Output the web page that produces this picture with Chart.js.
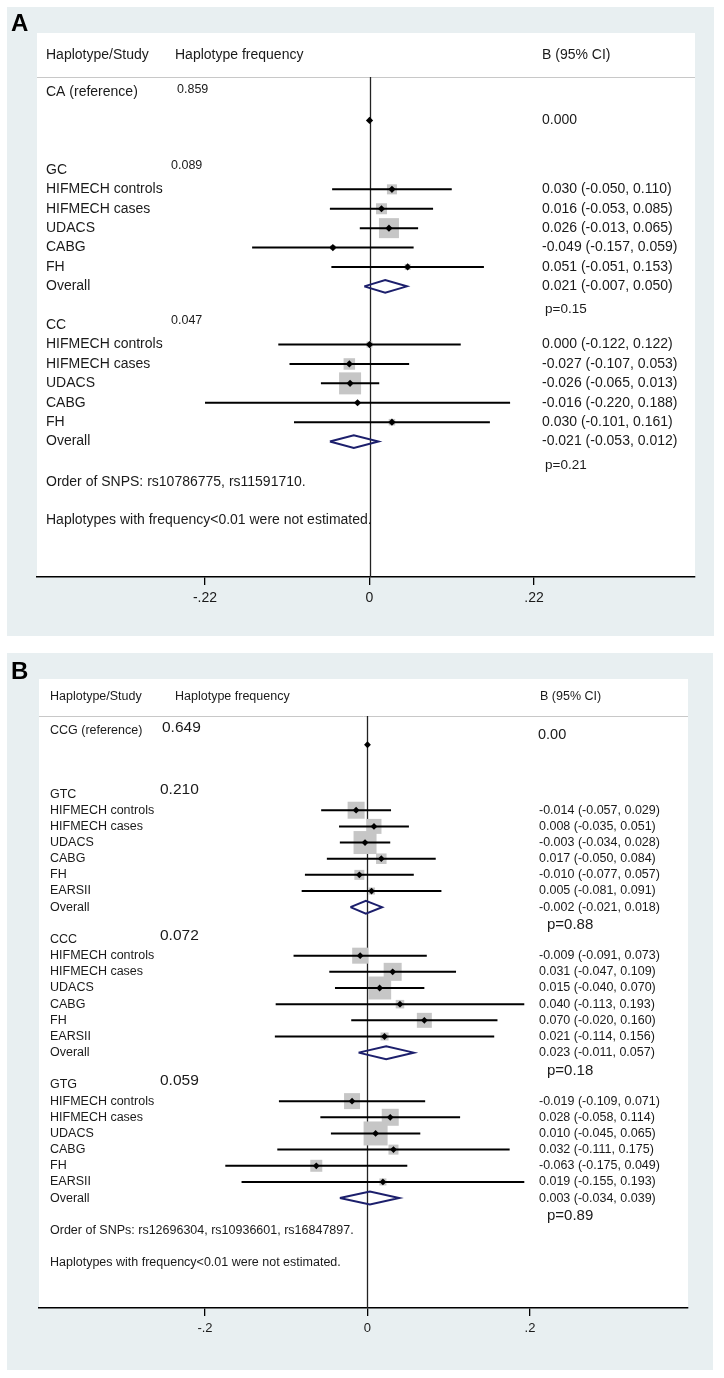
<!DOCTYPE html>
<html><head><meta charset="utf-8">
<script src="https://cdn.jsdelivr.net/npm/chart.js@4/dist/chart.umd.min.js"></script>
<style>
html,body{margin:0;padding:0;background:#fff;width:724px;height:1378px;overflow:hidden;}
.bg{position:absolute;background:#e8eff1;}
.wh{position:absolute;background:#fff;}
.holder{position:absolute;left:0;}
</style></head><body>
<div class="bg" style="left:7px;top:7px;width:707px;height:629px"></div>
<div class="wh" style="left:37px;top:33px;width:658px;height:544px"></div>
<div class="bg" style="left:7px;top:653px;width:706px;height:717px"></div>
<div class="wh" style="left:39px;top:679px;width:649px;height:629px"></div>
<div class="holder" style="top:0;width:724px;height:640px"><canvas id="cA" width="724" height="640"></canvas></div>
<div class="holder" style="top:640px;width:724px;height:738px"><canvas id="cB" width="724" height="738"></canvas></div>
<script>
// ---------------- DATA : panel A ----------------
const headersA = ['Haplotype/Study', 'Haplotype frequency', 'B (95% CI)'];
const studiesA = ['HIFMECH controls', 'HIFMECH cases', 'UDACS', 'CABG', 'FH'];
const refLabelA = 'CA (reference)';
const refFreqA = '0.859';
const refEstA = 0.000;
const refTextA = '0.000';
const groupsA = ['GC', 'CC'];
const freqA = ['0.089', '0.047'];
const pValuesA = ['p=0.15', 'p=0.21'];
const estA_GC = [0.030, 0.016, 0.026, -0.049, 0.051];
const loA_GC  = [-0.050, -0.053, -0.013, -0.157, -0.051];
const hiA_GC  = [0.110, 0.085, 0.065, 0.059, 0.153];
const wA_GC   = [14.5, 17.5, 57.8, 3.6, 5.2];
const overallA_GC = [0.021, -0.007, 0.050];
const estA_CC = [0.000, -0.027, -0.026, -0.016, 0.030];
const loA_CC  = [-0.122, -0.107, -0.065, -0.220, -0.101];
const hiA_CC  = [0.122, 0.053, 0.013, 0.188, 0.161];
const wA_CC   = [5.2, 19.1, 70.0, 1.8, 6.1];
const overallA_CC = [-0.021, -0.053, 0.012];
const footA = ['Order of SNPS: rs10786775, rs11591710.', 'Haplotypes with frequency<0.01 were not estimated.'];
const ticksA = [-0.22, 0, 0.22];
const tickLabelsA = ['-.22', '0', '.22'];

// ---------------- DATA : panel B ----------------
const headersB = ['Haplotype/Study', 'Haplotype frequency', 'B (95% CI)'];
const studiesB = ['HIFMECH controls', 'HIFMECH cases', 'UDACS', 'CABG', 'FH', 'EARSII'];
const refLabelB = 'CCG (reference)';
const refFreqB = '0.649';
const refEstB = 0.00;
const refTextB = '0.00';
const groupsB = ['GTC', 'CCC', 'GTG'];
const freqB = ['0.210', '0.072', '0.059'];
const pValuesB = ['p=0.88', 'p=0.18', 'p=0.89'];
const estB_GTC = [-0.014, 0.008, -0.003, 0.017, -0.010, 0.005];
const loB_GTC  = [-0.057, -0.035, -0.034, -0.050, -0.077, -0.081];
const hiB_GTC  = [0.029, 0.051, 0.028, 0.084, 0.057, 0.091];
const wB_GTC   = [21.1, 16.4, 38.6, 8.1, 7.3, 3.6];
const overallB_GTC = [-0.002, -0.021, 0.018];
const estB_CCC = [-0.009, 0.031, 0.015, 0.040, 0.070, 0.021];
const loB_CCC  = [-0.091, -0.047, -0.040, -0.113, -0.020, -0.114];
const hiB_CCC  = [0.073, 0.109, 0.070, 0.193, 0.160, 0.156];
const wB_CCC   = [18.7, 23.7, 38.6, 5.3, 16.4, 4.7];
const overallB_CCC = [0.023, -0.011, 0.057];
const estB_GTG = [-0.019, 0.028, 0.010, 0.032, -0.063, 0.019];
const loB_GTG  = [-0.109, -0.058, -0.045, -0.111, -0.175, -0.155];
const hiB_GTG  = [0.071, 0.114, 0.065, 0.175, 0.049, 0.193];
const wB_GTG   = [18.7, 21.1, 42.1, 7.3, 10.5, 3.6];
const overallB_GTG = [0.003, -0.034, 0.039];
const footB = ['Order of SNPs: rs12696304, rs10936601, rs16847897.', 'Haplotypes with frequency<0.01 were not estimated.'];
const ticksB = [-0.2, 0, 0.2];
const tickLabelsB = ['-.2', '0', '.2'];

// ---------------- rendering ----------------
const FONT = '"Liberation Sans", Arial, Helvetica, sans-serif';
const TXT = '#1a1a1a';
const fmt = v => v.toFixed(3);
const ciText = (e, l, h) => `${fmt(e)} (${fmt(l)}, ${fmt(h)})`;

function buildPanel(p) {
  // p: groups with est/lo/hi/w/overall
  const ciLines = [], boxes = [], boxR = [], points = [], diamonds = [];
  points.push({x: p.refEst, y: p.rows.refMark});
  p.groups.forEach((g, gi) => {
    const s = gi * p.rows.groupStep;
    g.est.forEach((e, i) => {
      const r = s + 1 + i;
      ciLines.push({x: g.lo[i], y: r}, {x: g.hi[i], y: r}, {x: null, y: null});
      boxes.push({x: e, y: r});
      boxR.push(p.boxScale * Math.sqrt(g.w[i]) / (2 * Math.SQRT1_2));
      points.push({x: e, y: r});
    });
    const ro = s + 1 + g.est.length;
    const [oe, ol, oh] = g.overall;
    diamonds.push({x: ol, y: ro}, {x: oe, y: ro - p.dh}, {x: oh, y: ro}, {x: oe, y: ro + p.dh}, {x: ol, y: ro}, {x: null, y: null});
  });

  const textPlugin = {
    id: 'forestText' + p.id,
    beforeDatasetsDraw(chart) {
      const {ctx, chartArea: a, scales: {x}} = chart;
      ctx.save();
      ctx.strokeStyle = '#c8c8c8'; ctx.lineWidth = 1;
      ctx.beginPath(); ctx.moveTo(a.left, a.top + 0.5); ctx.lineTo(a.right, a.top + 0.5); ctx.stroke();
      const x0 = Math.round(x.getPixelForValue(0)) + 0.5;
      ctx.strokeStyle = '#222'; ctx.lineWidth = 1.3;
      ctx.beginPath(); ctx.moveTo(x0, a.top); ctx.lineTo(x0, a.bottom); ctx.stroke();
      ctx.restore();
    },
    afterDraw(chart) {
      const {ctx, scales: {y}} = chart;
      const L = p.layout;
      ctx.save();
      ctx.textBaseline = 'middle';
      ctx.textAlign = 'left';
      ctx.fillStyle = '#000';
      ctx.font = `bold 24px ${FONT}`;
      ctx.fillText(p.letter, 11, L.letterY);
      ctx.fillStyle = TXT;
      const put = (t, xx, yy, size) => { ctx.font = `${size}px ${FONT}`; ctx.fillText(t, xx, yy); };
      const Y = r => y.getPixelForValue(r);
      // headers
      p.headers.forEach((h, i) => put(h, L.headX[i], L.headY, L.fHead));
      // reference row
      put(p.refLabel, L.labelX, Y(p.rows.refLabel), L.fLabel);
      put(p.refFreq, L.refFreqX, Y(p.rows.refFreq), L.fRefFreq);
      put(p.refText, L.refCiX, Y(p.rows.refText), L.fRefCi);
      p.groups.forEach((g, gi) => {
        const s = gi * p.rows.groupStep;
        put(g.name, L.labelX, Y(s), L.fLabel);
        put(g.freq, L.freqX, Y(s + p.rows.freqOff), L.fFreq);
        g.est.forEach((e, i) => {
          put(p.studies[i], L.labelX, Y(s + 1 + i), L.fLabel);
          put(ciText(e, g.lo[i], g.hi[i]), L.ciX, Y(s + 1 + i), L.fCi);
        });
        const ro = s + 1 + g.est.length;
        put('Overall', L.labelX, Y(ro), L.fLabel);
        put(ciText(g.overall[0], g.overall[1], g.overall[2]), L.ciX, Y(ro), L.fCi);
        put(g.p, L.pX, Y(ro + p.rows.pOff), L.fP);
      });
      p.foot.forEach((f, i) => put(f, L.labelX, Y(p.rows.foot[i]), L.fFoot));
      ctx.restore();
    }
  };

  return new Chart(document.getElementById(p.canvas), {
    type: 'scatter',
    data: {
      datasets: [
        {data: points, pointStyle: 'rectRot', pointRadius: p.markR, backgroundColor: '#000', borderColor: '#000', borderWidth: 0, showLine: false},
        {data: ciLines, showLine: true, spanGaps: false, pointRadius: 0, borderColor: '#000', borderWidth: 2, fill: false},
        {data: diamonds, showLine: true, spanGaps: false, pointRadius: 0, borderColor: '#1c1f6c', borderWidth: 2, fill: false},
        {data: boxes, pointStyle: 'rect', pointRadius: boxR, backgroundColor: '#c6c6c6', borderWidth: 0, showLine: false}
      ]
    },
    options: {
      responsive: false, animation: false, devicePixelRatio: 1, events: [],
      plugins: {legend: {display: false}, tooltip: {enabled: false}},
      layout: {padding: p.padding},
      scales: {
        x: {
          type: 'linear', min: p.xmin, max: p.xmax,
          afterBuildTicks: s => { s.ticks = p.ticks.map(v => ({value: v})); },
          afterFit: s => { s.height = p.axisH; },
          ticks: {callback: (v, i) => p.tickLabels[i], font: {size: p.layout.fTick, family: FONT}, color: TXT, padding: 5, autoSkip: false, maxRotation: 0},
          grid: {drawOnChartArea: false, drawTicks: true, tickLength: 8, color: '#000', lineWidth: 1.3},
          border: {display: true, color: '#000', width: 1.6}
        },
        y: {type: 'linear', reverse: true, min: p.ymin, max: p.ymax, display: false}
      }
    },
    plugins: [textPlugin]
  });
}

buildPanel({
  id: 'A', canvas: 'cA', letter: 'A',
  headers: headersA, studies: studiesA, foot: footA,
  refLabel: refLabelA, refFreq: refFreqA, refEst: refEstA, refText: refTextA,
  groups: [
    {name: groupsA[0], freq: freqA[0], p: pValuesA[0], est: estA_GC, lo: loA_GC, hi: hiA_GC, w: wA_GC, overall: overallA_GC},
    {name: groupsA[1], freq: freqA[1], p: pValuesA[1], est: estA_CC, lo: loA_CC, hi: hiA_CC, w: wA_CC, overall: overallA_CC}
  ],
  ticks: ticksA, tickLabels: tickLabelsA,
  xmin: -0.4447, xmax: 0.4353, ymin: -4.79, ymax: 20.98,
  padding: {left: 37, right: 29, top: 77, bottom: 0}, axisH: 63,
  boxScale: 2.63, markR: 3.6, dh: 0.33,
  rows: {refLabel: -4.0, refFreq: -4.15, refMark: -2.55, refText: -2.58, groupStep: 8, freqOff: -0.25, pOff: 1.2, foot: [16.1, 18.05]},
  layout: {letterY: 24, headY: 55, headX: [46, 175, 542], labelX: 46, freqX: 171, refFreqX: 177, ciX: 542, refCiX: 542, pX: 545,
    fHead: 14, fLabel: 14, fFreq: 12.5, fRefFreq: 12.5, fCi: 14, fRefCi: 14, fP: 13.5, fFoot: 14, fTick: 14}
});

buildPanel({
  id: 'B', canvas: 'cB', letter: 'B',
  headers: headersB, studies: studiesB, foot: footB,
  refLabel: refLabelB, refFreq: refFreqB, refEst: refEstB, refText: refTextB,
  groups: [
    {name: groupsB[0], freq: freqB[0], p: pValuesB[0], est: estB_GTC, lo: loB_GTC, hi: hiB_GTC, w: wB_GTC, overall: overallB_GTC},
    {name: groupsB[1], freq: freqB[1], p: pValuesB[1], est: estB_CCC, lo: loB_CCC, hi: hiB_CCC, w: wB_CCC, overall: overallB_CCC},
    {name: groupsB[2], freq: freqB[2], p: pValuesB[2], est: estB_GTG, lo: loB_GTG, hi: hiB_GTG, w: wB_GTG, overall: overallB_GTG}
  ],
  ticks: ticksB, tickLabels: tickLabelsB,
  xmin: -0.4043, xmax: 0.3945, ymin: -4.83, ymax: 31.8,
  padding: {left: 39, right: 36, top: 76, bottom: 0}, axisH: 70,
  boxScale: 3.7, markR: 3.4, dh: 0.4,
  rows: {refLabel: -3.95, refFreq: -4.1, refMark: -3.05, refText: -3.65, groupStep: 9, freqOff: -0.25, pOff: 1.1, foot: [27.0, 29.0]},
  layout: {letterY: 32, headY: 57, headX: [50, 175, 540], labelX: 50, freqX: 160, refFreqX: 162, ciX: 539, refCiX: 538, pX: 547,
    fHead: 12.5, fLabel: 12.5, fFreq: 15.5, fRefFreq: 15.5, fCi: 12.5, fRefCi: 14.5, fP: 15, fFoot: 12.5, fTick: 13}
});
</script>
</body></html>
